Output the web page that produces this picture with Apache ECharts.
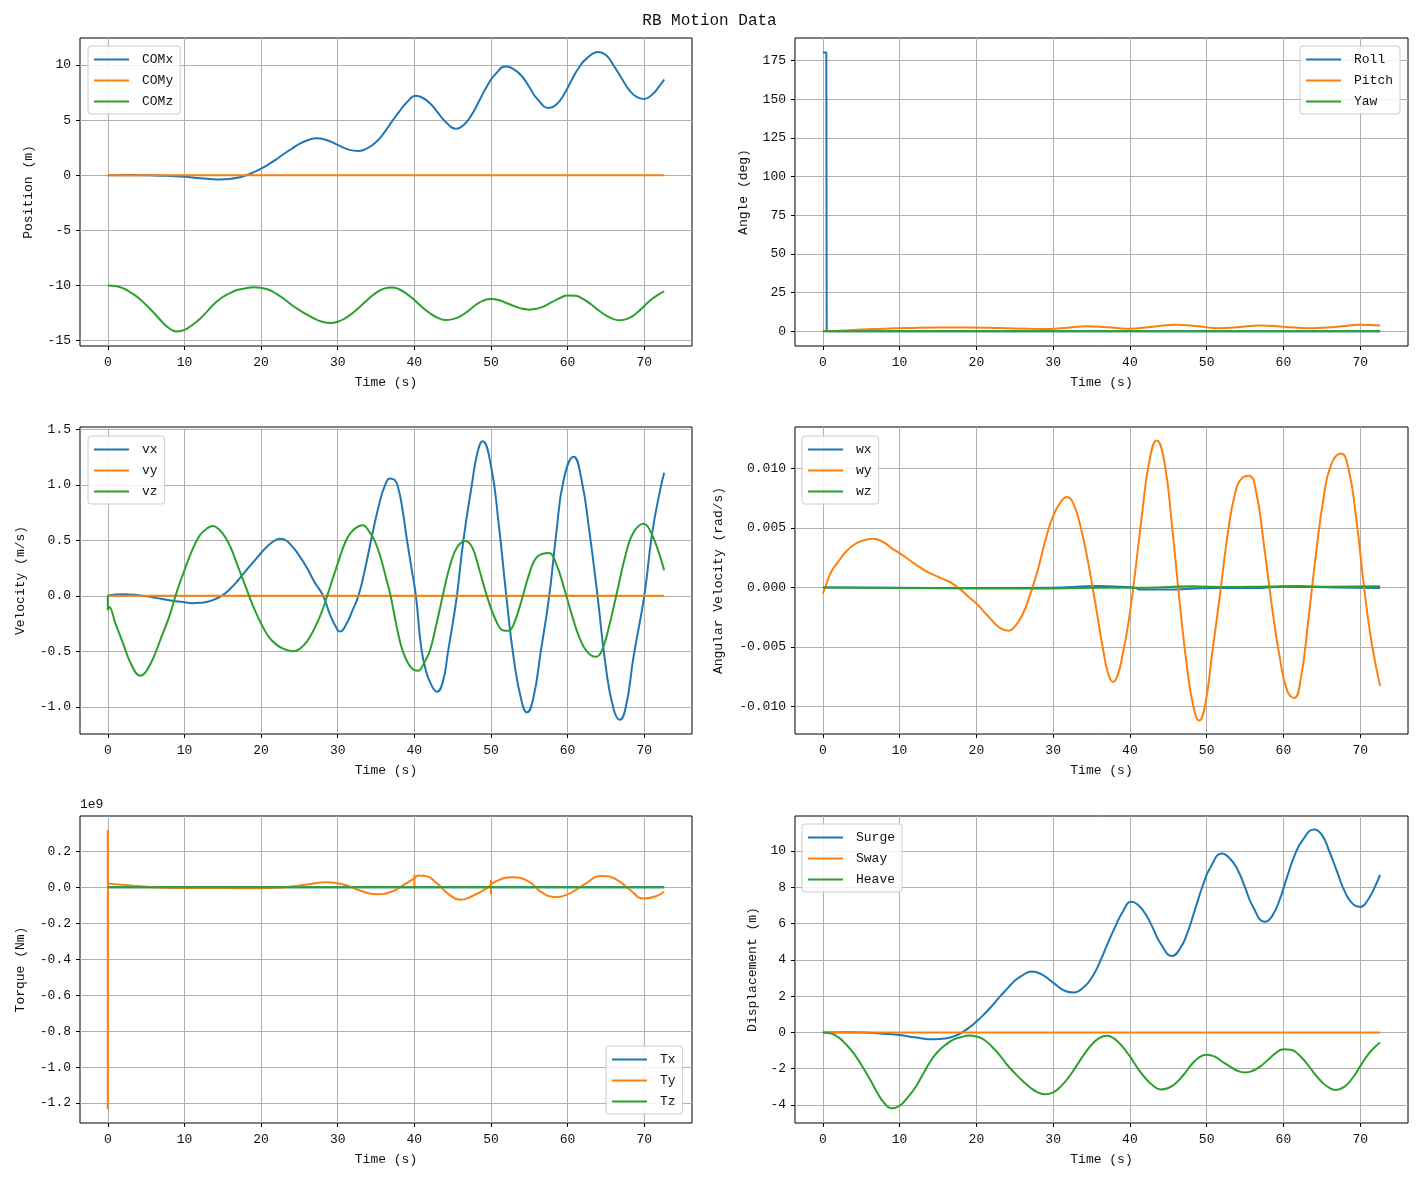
<!DOCTYPE html>
<html>
  <head>
    <meta charset="utf-8">
    <title>RB Motion Data</title>
    <script src="https://cdn.jsdelivr.net/npm/echarts@6/dist/echarts.min.js"></script>
    <style>
      html, body { margin: 0; padding: 0; background: #fff; }
    </style>
  </head>
  <body>
    <div id="main" style="width: 1419px;height:1180px;"></div>
    <script type="text/javascript">
      // 读图得到的数据 (t, value)
      const timeTicks = [0, 10, 20, 30, 40, 50, 60, 70];

      const surge = [[0,0],[3,0.01],[6,-0.02],[8,-0.07],[10,-0.14],[12,-0.27],[14.5,-0.38],[16,-0.33],[17,-0.22],[18,-0.03],[19,0.25],[20,0.6],[21,1.0],[22,1.45],[23,1.95],[24,2.4],[25,2.85],[26,3.15],[27.2,3.36],[28.5,3.2],[30,2.75],[31.5,2.3],[32.7,2.2],[34,2.5],[35,3.0],[36,3.8],[37,4.8],[38,5.75],[39,6.6],[40.2,7.2],[41,7.05],[42,6.55],[43,5.75],[44,4.9],[45.5,4.22],[46.5,4.6],[47.5,5.5],[48.5,6.8],[49.5,8.1],[50.5,9.1],[52,9.87],[53,9.6],[54,9.0],[55,8.0],[56,6.95],[57.6,6.1],[58.5,6.4],[59.5,7.3],[60.5,8.6],[61.5,9.8],[62.5,10.6],[64,11.19],[65,10.9],[66,9.96],[67,8.85],[68,7.76],[69,7.1],[70,6.92],[71,7.3],[72,8.1],[72.6,8.68]];
      const sway = [[0,0],[72.6,0]];
      const heave = [[0,0],[1,-0.05],[2,-0.26],[3,-0.65],[4,-1.14],[5,-1.78],[6,-2.48],[7,-3.25],[8,-3.89],[9,-4.18],[10,-4.04],[11,-3.6],[12,-3.06],[13,-2.33],[14,-1.6],[15,-1.05],[16,-0.68],[17,-0.4],[18,-0.26],[19,-0.17],[20,-0.22],[21,-0.4],[22,-0.77],[23,-1.23],[24,-1.78],[25,-2.24],[26,-2.66],[27,-3.03],[28,-3.3],[29,-3.41],[30,-3.3],[31,-2.97],[32,-2.48],[33,-1.87],[34,-1.23],[35,-0.68],[36,-0.31],[37,-0.18],[38,-0.35],[39,-0.77],[40,-1.32],[41,-1.96],[42,-2.51],[43,-2.92],[44,-3.14],[45,-3.06],[46,-2.79],[47,-2.33],[48,-1.78],[49,-1.38],[50,-1.23],[51,-1.32],[52,-1.6],[53,-1.87],[54,-2.11],[55,-2.2],[56,-2.11],[57,-1.87],[58,-1.5],[59,-1.14],[60,-0.92],[61,-0.95],[62,-1.23],[63,-1.69],[64,-2.24],[65,-2.73],[66,-3.06],[66.8,-3.17],[68,-2.97],[69,-2.51],[70,-1.87],[71,-1.23],[72,-0.77],[72.6,-0.55]];
      const comY = [[0,0],[72.6,0]];
      const comZ = [[0,-10],[1,-10.05],[2,-10.26],[3,-10.65],[4,-11.14],[5,-11.78],[6,-12.48],[7,-13.25],[8,-13.89],[9,-14.18],[10,-14.04],[11,-13.6],[12,-13.06],[13,-12.33],[14,-11.6],[15,-11.05],[16,-10.68],[17,-10.4],[18,-10.26],[19,-10.17],[20,-10.22],[21,-10.4],[22,-10.77],[23,-11.23],[24,-11.78],[25,-12.24],[26,-12.66],[27,-13.03],[28,-13.3],[29,-13.41],[30,-13.3],[31,-12.97],[32,-12.48],[33,-11.87],[34,-11.23],[35,-10.68],[36,-10.31],[37,-10.18],[38,-10.35],[39,-10.77],[40,-11.32],[41,-11.96],[42,-12.51],[43,-12.92],[44,-13.14],[45,-13.06],[46,-12.79],[47,-12.33],[48,-11.78],[49,-11.38],[50,-11.23],[51,-11.32],[52,-11.6],[53,-11.87],[54,-12.11],[55,-12.2],[56,-12.11],[57,-11.87],[58,-11.5],[59,-11.14],[60,-10.92],[61,-10.95],[62,-11.23],[63,-11.69],[64,-12.24],[65,-12.73],[66,-13.06],[66.8,-13.17],[68,-12.97],[69,-12.51],[70,-11.87],[71,-11.23],[72,-10.77],[72.6,-10.55]];

      const roll = [[0,180.3],[0.45,180.3],[0.5,0],[72.6,0]];
      const pitch = [[0,0],[2,0.4],[5,1.1],[8,1.7],[11,2.1],[15,2.4],[19,2.4],[23,2.1],[27,1.6],[29,1.5],[31.5,2.2],[34.5,3.3],[37,2.7],[39.8,1.7],[43,3.0],[46,4.3],[49,3.2],[51.5,2.0],[54,2.6],[57,3.8],[60,3.0],[63.5,1.9],[67,3.0],[70,4.2],[72.6,3.7]];
      const yaw = [[0,0],[72.6,0]];

      const vx = [[0,0],[1,0.012],[2,0.015],[4,0.006],[6,-0.015],[8,-0.04],[10,-0.057],[11,-0.066],[12,-0.063],[13,-0.054],[14,-0.03],[15,0.006],[16,0.066],[17,0.14],[18,0.225],[19,0.305],[20,0.386],[21,0.458],[22,0.506],[22.5,0.515],[23,0.509],[24,0.45],[25,0.36],[26,0.25],[27,0.12],[28.1,0],[29,-0.17],[30,-0.31],[30.3,-0.322],[31,-0.27],[32,-0.12],[32.7,0],[33.5,0.22],[34.5,0.55],[35.5,0.85],[36.2,1.0],[36.8,1.057],[37.4,1.045],[37.9,0.97],[38.4,0.8],[39,0.52],[39.6,0.26],[40.2,0],[40.9,-0.47],[41.5,-0.67],[42.2,-0.8],[42.95,-0.864],[43.7,-0.78],[44.4,-0.5],[45,-0.25],[45.55,0],[46.4,0.5],[47.5,1.0],[48.2,1.28],[48.9,1.392],[50,1.17],[51,0.65],[52,0],[53,-0.58],[54,-0.95],[54.7,-1.05],[55.5,-0.93],[56.5,-0.5],[57.6,0],[58.5,0.55],[59.5,1.05],[60.8,1.254],[61.8,1.05],[62.8,0.6],[63.9,0],[65,-0.65],[66,-1.02],[66.8,-1.117],[67.6,-1.0],[68.6,-0.55],[70,0],[71,0.55],[72,0.93],[72.6,1.108]];
      const vy = [[0,0],[72.6,0]];
      const vz = [[0,0.006],[0,-0.13],[0.2,-0.1],[1,-0.25],[2,-0.43],[3,-0.61],[4.2,-0.72],[5,-0.68],[6,-0.55],[7,-0.37],[8,-0.19],[9,0.036],[10,0.23],[11,0.41],[12,0.545],[13,0.61],[13.7,0.63],[15,0.56],[16,0.44],[17,0.26],[18,0.08],[19,-0.1],[20,-0.25],[21,-0.37],[22,-0.44],[23,-0.48],[24.2,-0.5],[25,-0.48],[26,-0.41],[27,-0.29],[28,-0.13],[29,0.08],[30,0.29],[31,0.485],[32,0.59],[33.3,0.635],[34,0.59],[34.8,0.5],[35.5,0.37],[36.2,0.19],[36.9,0],[37.7,-0.28],[38.5,-0.5],[39.5,-0.64],[40.5,-0.675],[41.3,-0.6],[42,-0.5],[42.9,-0.25],[43.7,0],[44.6,0.26],[45.6,0.44],[46.7,0.495],[47.6,0.43],[48.5,0.23],[49.5,-0.01],[50.5,-0.2],[51.5,-0.31],[52.3,-0.315],[53,-0.25],[54,-0.04],[55,0.2],[56,0.35],[57.6,0.386],[58.5,0.29],[59.5,0.08],[60.5,-0.16],[61.5,-0.37],[62.5,-0.5],[63.7,-0.55],[64.5,-0.49],[65.5,-0.25],[66.5,0.05],[67.5,0.35],[68.5,0.56],[69.9,0.65],[70.5,0.62],[71.5,0.47],[72.6,0.23]];

      const wx = [[0,0],[10,-0.00003],[20,-0.00005],[30,-0.00003],[33,0.00005],[36,0.00013],[39,0.00005],[40.8,-0.00005],[41.2,-0.00017],[45,-0.00018],[48,-0.0001],[52,-0.00004],[56,-0.00005],[60,0.00005],[64,0.00003],[67,0],[72.6,-0.00004]];
      const wy = [[0,-0.0005],[0.3,0],[1,0.0012],[2,0.00216],[3,0.003],[4,0.00357],[5,0.0039],[6.5,0.0041],[8,0.00376],[9,0.00329],[10,0.00287],[11,0.00244],[12,0.00197],[13,0.00154],[14,0.00118],[15,0.0009],[16,0.00062],[17,0.00028],[18,-0.00022],[19,-0.0008],[20,-0.00135],[21,-0.00205],[22,-0.00275],[23,-0.00337],[24.2,-0.00365],[25,-0.0033],[26,-0.0023],[27,-0.0006],[28,0.00146],[29,0.004],[30,0.006],[31,0.0072],[31.8,0.0076],[32.6,0.0071],[33.5,0.0053],[34.5,0.0023],[35.5,-0.00135],[36.5,-0.0052],[37.2,-0.0073],[37.8,-0.00795],[38.4,-0.0074],[39.1,-0.0055],[39.8,-0.003],[40.5,0.0003],[41.5,0.0057],[42.5,0.0105],[43.5,0.01236],[44.5,0.0105],[45.5,0.0051],[46.5,-0.00135],[47.5,-0.007],[48.3,-0.0101],[49,-0.0112],[49.8,-0.0099],[50.7,-0.0056],[51.7,-0.0008],[52.7,0.0043],[53.7,0.0079],[54.6,0.0092],[55.5,0.0094],[56.4,0.0082],[57.5,0.0034],[58.5,-0.0016],[59.5,-0.0058],[60.5,-0.0087],[61.4,-0.0093],[62.3,-0.0075],[63.2,-0.003],[64.2,0.0026],[65.2,0.0074],[66.2,0.0103],[67.5,0.01126],[68.5,0.0099],[69.5,0.0057],[70.5,0.00006],[71.5,-0.0047],[72.6,-0.0083]];
      const wz = [[0,0],[10,-0.00005],[20,-0.00008],[30,-0.00008],[36,-0.00002],[42,-0.00003],[48,0.0001],[53,0.00003],[58,0.00008],[62,0.00012],[66,0.00006],[72.6,0.0001]];

      // 力矩 (单位 1e9 Nm)
      const tx = [[0,0],[72.6,0]];
      const tyMain = [[0.05,0.02],[3,0.01],[6,0.0],[10,-0.004],[15,-0.005],[20,-0.006],[23,0.0],[26,0.015],[28.5,0.028],[30.5,0.018],[33,-0.02],[35,-0.039],[37,-0.025],[38.5,0.01],[40,0.05],[40.5,0.065],[41.5,0.062],[43,0.02],[44.5,-0.04],[46,-0.07],[47.5,-0.05],[49.5,-0.005],[50.5,0.03],[52.8,0.055],[55,0.03],[56.5,-0.025],[58.2,-0.055],[60,-0.04],[62,0.01],[64.5,0.063],[66.5,0.04],[68,-0.01],[70,-0.063],[71.5,-0.05],[72.6,-0.025]];
      const tySpikes = [[0,-1.234],[0,0.318],'-',[40,0.07],[40,-0.009],'-',[50,0.04],[50,-0.039]];
      const tz = [[0,0],[72.6,0]];

      const C1 = '#1f77b4', C2 = '#ff7f0e', C3 = '#2ca02c';
      const FONT = 'Liberation Mono';

      var myChart = echarts.init(document.getElementById('main'));

      const grids = [
        { left: 80, top: 38, width: 612, height: 308 },
        { left: 795, top: 38, width: 613, height: 308 },
        { left: 80, top: 427, width: 612, height: 307 },
        { left: 795, top: 427, width: 613, height: 307 },
        { left: 80, top: 816, width: 612, height: 307 },
        { left: 795, top: 816, width: 613, height: 307 }
      ].map(g => Object.assign({ show: true, borderColor: '#000', borderWidth: 1, backgroundColor: '#fff' }, g));

      const axisText = { fontFamily: FONT, fontSize: 13, color: '#111' };

      function xAxisOf(i) {
        return {
          type: 'value', gridIndex: i, min: -3.63, max: 76.23,
          name: 'Time (s)', nameLocation: 'middle', nameGap: 30,
          nameTextStyle: axisText,
          axisLine: { show: false, onZero: false },
          axisTick: { show: true, length: 4, lineStyle: { color: '#000' }, customValues: timeTicks },
          axisLabel: Object.assign({ margin: 10, customValues: timeTicks }, axisText),
          splitLine: { show: true, lineStyle: { color: '#b0b0b0', width: 1 } }
        };
      }

      function yAxisOf(i, name, min, max, ticks, gap, fmt) {
        return {
          type: 'value', gridIndex: i, min: min, max: max,
          name: name, nameLocation: 'middle', nameGap: gap, nameRotate: 90,
          nameTextStyle: axisText,
          axisLine: { show: false, onZero: false },
          axisTick: { show: true, length: 4, lineStyle: { color: '#000' }, customValues: ticks },
          axisLabel: Object.assign({ margin: 9, customValues: ticks, formatter: fmt }, axisText),
          splitLine: { show: true, lineStyle: { color: '#b0b0b0', width: 1 } }
        };
      }

      function line(name, data, i, color, smooth) {
        return {
          name: name, type: 'line', data: data, xAxisIndex: i, yAxisIndex: i,
          showSymbol: false, symbol: 'none', smooth: smooth === undefined ? 0.5 : smooth,
          lineStyle: { width: 2, color: color }, itemStyle: { color: color },
          animation: false
        };
      }

      function legendOf(i, names, pos) {
        return Object.assign({
          orient: 'vertical', data: names, icon: 'rect', itemWidth: 35, itemHeight: 2,
          itemGap: 8, padding: [7, 7, 6, 6], backgroundColor: 'rgba(255,255,255,0.85)',
          borderColor: '#cccccc', borderWidth: 1, borderRadius: 3,
          textStyle: { fontFamily: FONT, fontSize: 13, color: '#111', padding: [0, 0, 0, 8] }
        }, pos);
      }

      const f1 = v => v.toFixed(1), f3 = v => v.toFixed(3);

      var option = {
        animation: false,
        title: {
          text: 'RB Motion Data', left: 'center', top: 8,
          textStyle: { fontFamily: FONT, fontSize: 16, fontWeight: 'normal', color: '#111' }
        },
        grid: grids,
        xAxis: [0, 1, 2, 3, 4, 5].map(xAxisOf),
        yAxis: [
          yAxisOf(0, 'Position (m)', -15.5, 12.45, [-15, -10, -5, 0, 5, 10], 45),
          yAxisOf(1, 'Angle (deg)', -9.5, 189.6, [0, 25, 50, 75, 100, 125, 150, 175], 45),
          yAxisOf(2, 'Velocity (m/s)', -1.245, 1.521, [-1, -0.5, 0, 0.5, 1, 1.5], 53, f1),
          yAxisOf(3, 'Angular Velocity (rad/s)', -0.01233, 0.0135, [-0.01, -0.005, 0, 0.005, 0.01], 70, f3),
          yAxisOf(4, 'Torque (Nm)', -1.311, 0.396, [-1.2, -1.0, -0.8, -0.6, -0.4, -0.2, 0, 0.2], 53, f1),
          yAxisOf(5, 'Displacement (m)', -4.99, 11.93, [-4, -2, 0, 2, 4, 6, 8, 10], 36)
        ],
        legend: [
          legendOf(0, ['COMx', 'COMy', 'COMz'], { left: 88, top: 46 }),
          legendOf(1, ['Roll', 'Pitch', 'Yaw'], { right: 19, top: 46 }),
          legendOf(2, ['vx', 'vy', 'vz'], { left: 88, top: 436 }),
          legendOf(3, ['wx', 'wy', 'wz'], { left: 802, top: 436 }),
          legendOf(4, ['Tx', 'Ty', 'Tz'], { left: 606, top: 1046 }),
          legendOf(5, ['Surge', 'Sway', 'Heave'], { left: 802, top: 824 })
        ],
        graphic: [{
          type: 'text', left: 80, top: 798,
          style: { text: '1e9', fontFamily: FONT, fontSize: 13, fill: '#111' }
        }],
        series: [
          line('COMx', surge, 0, C1),
          line('COMy', comY, 0, C2),
          line('COMz', comZ, 0, C3),
          line('Roll', roll, 1, C1, false),
          line('Pitch', pitch, 1, C2),
          line('Yaw', yaw, 1, C3),
          line('vx', vx, 2, C1),
          line('vy', vy, 2, C2),
          line('vz', vz, 2, C3, 0.4),
          line('wx', wx, 3, C1),
          line('wy', wy, 3, C2),
          line('wz', wz, 3, C3),
          line('Tx', tx, 4, C1),
          line('Ty', tySpikes, 4, C2, false),
          line('Ty', tyMain, 4, C2),
          line('Tz', tz, 4, C3),
          line('Surge', surge, 5, C1),
          line('Sway', sway, 5, C2),
          line('Heave', heave, 5, C3)
        ]
      };

      myChart.setOption(option);
    </script>
  </body>
</html>
